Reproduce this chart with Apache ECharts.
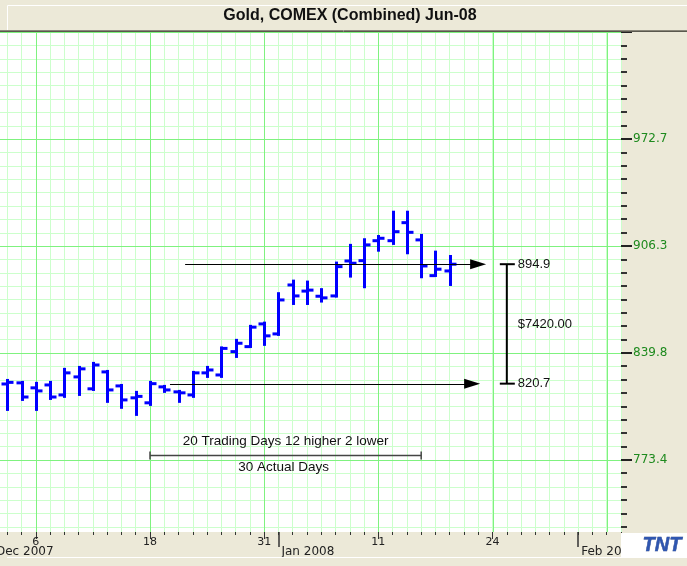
<!DOCTYPE html>
<html><head><meta charset="utf-8">
<script src="https://cdn.jsdelivr.net/npm/echarts@6/dist/echarts.min.js"></script>
<style>html,body{margin:0;padding:0;background:#ECE9D8;}#c{width:687px;height:566px;}</style>
</head><body><div id="c"></div>
<script>
// ---- data ----
const tradingDays = [
  '2007-12-03','2007-12-04','2007-12-05','2007-12-06','2007-12-07','2007-12-10','2007-12-11','2007-12-12','2007-12-13','2007-12-14',
  '2007-12-17','2007-12-18','2007-12-19','2007-12-20','2007-12-21','2007-12-24','2007-12-26','2007-12-27','2007-12-28','2007-12-31',
  '2008-01-02','2008-01-03','2008-01-04','2008-01-07','2008-01-08','2008-01-09','2008-01-10','2008-01-11','2008-01-14','2008-01-15',
  '2008-01-16','2008-01-17','2008-01-18','2008-01-22','2008-01-23','2008-01-24','2008-01-25','2008-01-28','2008-01-29','2008-01-30',
  '2008-01-31','2008-02-01','2008-02-04','2008-02-05','2008-02-06'
];
const opens  = [null,820.5,821.2,818.1,819.9,813.7,824.9,817.5,828.0,819.3,811.9,808.8,818.7,815.6,813.7,827.4,826.1,840.6,843.7,857.8,851.6,882.0,878.2,875.0,875.2,896.9,897.1,909.5,909.5,920.7,910.0,887.8,890.7,null,null,null,null,null,null,null,null,null,null,null,null];
const highs  = [null,823.0,821.8,821.2,821.8,829.9,831.1,833.6,828.6,819.9,815.6,821.8,819.3,816.2,828.0,831.1,843.2,847.9,856.6,858.6,876.9,884.7,884.1,879.4,895.9,906.9,910.4,912.4,927.5,927.5,913.1,902.7,900.0,null,null,null,null,null,null,null,null,null,null,null,null];
const lows   = [null,804.4,810.6,804.4,811.2,812.5,813.7,816.8,809.4,805.7,801.3,807.5,815.6,809.4,812.5,824.9,824.9,837.3,843.5,844.8,851.0,870.2,870.2,871.7,874.8,887.2,880.6,903.3,907.5,901.7,886.8,887.6,882.0,null,null,null,null,null,null,null,null,null,null,null,null];
const closes = [null,821.5,812.4,816.2,812.4,827.4,829.9,832.3,816.8,810.6,812.8,820.7,816.8,815.0,827.4,829.2,842.6,845.8,855.8,850.4,872.7,875.2,878.8,874.0,893.4,895.5,906.9,911.0,915.1,914.7,893.8,891.8,894.9,null,null,null,null,null,null,null,null,null,null,null,null];
const yTickLabels = [773.4, 839.8, 906.3, 972.7];
const dayTickDates = ['2007-12-06','2007-12-18','2007-12-31','2008-01-11','2008-01-24'];
const majorGridDates = ['2007-12-06','2007-12-18','2007-12-31','2008-01-11','2008-01-24','2008-02-05'];
const monthStartDates = ['2007-12-03','2008-01-02','2008-02-01'];
const monthNames = ['Jan','Feb','Mar','Apr','May','Jun','Jul','Aug','Sep','Oct','Nov','Dec'];
const titleText = 'Gold, COMEX (Combined) Jun-08';
const startDate = '2007-12-18';
const startLevel = 820.7, endLevel = 894.9;
const measureText1 = '20 Trading Days 12 higher 2 lower';
const measureText2 = '30 Actual Days';
const pointValue = 100;

// ---- axis helpers ----
const majorStep = (yTickLabels[3] - yTickLabels[0]) / 3;
const minorStep = majorStep / 8;
const yMax = yTickLabels[0] + 4 * majorStep;
const yMin = yTickLabels[0] - 5.4 * minorStep;
const minorTicks = [];
for (let k = -5; k <= 31; k++) minorTicks.push(yTickLabels[0] + k * minorStep);
const majorTicks = [];
for (let k = 0; k <= 4; k++) majorTicks.push(yTickLabels[0] + k * majorStep);

const ohlcData = tradingDays.map((d, i) => [i, opens[i], highs[i], lows[i], closes[i]]).filter(r => r[1] != null);
const startIdx = tradingDays.indexOf(startDate);
const lightGrid = '#ccffcc', brightGrid = '#7ff27f';

function fx(api, i, v) {
  const b = Math.floor(i);
  const p0 = api.coord([b, v]);
  const p1 = api.coord([b + 1, v]);
  return [p0[0] + (i - b) * (p1[0] - p0[0]), p0[1]];
}

function hLine(color) {
  return function (params, api) {
    const cs = params.coordSys;
    const y = Math.round(api.coord([0, api.value(1)])[1]) + 0.5;
    return { type: 'line', shape: { x1: cs.x, y1: y, x2: cs.x + cs.width, y2: y }, style: { stroke: color, lineWidth: 1 } };
  };
}

function renderVMajor(params, api) {
  const cs = params.coordSys;
  const x = Math.round(api.coord([api.value(0), yMin])[0]) + 0.5;
  return { type: 'line', shape: { x1: x, y1: cs.y, x2: x, y2: cs.y + cs.height }, style: { stroke: brightGrid, lineWidth: 1 } };
}

function renderOHLC(params, api) {
  const i = api.value(0);
  const po = api.coord([i, api.value(1)]);
  const ph = api.coord([i, api.value(2)]);
  const pl = api.coord([i, api.value(3)]);
  const pc = api.coord([i, api.value(4)]);
  const x = Math.round(ph[0]) + 0.5;
  const st = { stroke: '#0000ff', lineWidth: 3 };
  return { type: 'group', children: [
    { type: 'line', shape: { x1: x, y1: ph[1] - 1, x2: x, y2: pl[1] + 1 }, style: st },
    { type: 'line', shape: { x1: x - 6, y1: po[1], x2: x, y2: po[1] }, style: st },
    { type: 'line', shape: { x1: x, y1: pc[1], x2: x + 6, y2: pc[1] }, style: st }
  ]};
}

function arrow(api, i0, i1, v) {
  const a = fx(api, i0, v), b = fx(api, i1, v);
  return [
    { type: 'line', shape: { x1: a[0], y1: Math.round(a[1]) + 0.5, x2: b[0] - 14, y2: Math.round(b[1]) + 0.5 }, style: { stroke: '#000', lineWidth: 1 } },
    { type: 'polygon', shape: { points: [[b[0], b[1]], [b[0] - 16, b[1] - 5], [b[0] - 16, b[1] + 5]] }, style: { fill: '#000' } }
  ];
}

function renderAnno(params, api) {
  const ch = [];
  ch.push(...arrow(api, startIdx + 1.4, 34.13, startLevel));
  ch.push(...arrow(api, startIdx + 2.46, 34.55, endLevel));
  const bx = api.coord([36, endLevel])[0];
  const yt = api.coord([36, endLevel])[1], yb = api.coord([36, startLevel])[1];
  const bs = { stroke: '#000', lineWidth: 2 };
  ch.push({ type: 'line', shape: { x1: bx, y1: yt, x2: bx, y2: yb }, style: bs });
  ch.push({ type: 'line', shape: { x1: bx - 7, y1: yt, x2: bx + 8, y2: yt }, style: bs });
  ch.push({ type: 'line', shape: { x1: bx - 7, y1: yb, x2: bx + 8, y2: yb }, style: bs });
  const tf = '13px "Liberation Sans", Arial, sans-serif';
  ch.push({ type: 'text', style: { text: endLevel.toFixed(1), x: bx + 11, y: yt, font: tf, fill: '#111', align: 'left', verticalAlign: 'middle' } });
  ch.push({ type: 'text', style: { text: startLevel.toFixed(1), x: bx + 11, y: yb, font: tf, fill: '#111', align: 'left', verticalAlign: 'middle' } });
  ch.push({ type: 'text', style: { text: '$' + ((endLevel - startLevel) * pointValue).toFixed(2), x: bx + 11, y: (yt + yb) / 2, font: tf, fill: '#111', align: 'left', verticalAlign: 'middle' } });
  const mv = 776.5;
  const m0 = api.coord([startIdx, mv]), m1 = api.coord([30, mv]);
  const my = Math.round(m0[1]) + 0.5;
  const ms = { stroke: '#444', lineWidth: 1.5 };
  ch.push({ type: 'line', shape: { x1: m0[0], y1: my, x2: m1[0], y2: my }, style: ms });
  ch.push({ type: 'line', shape: { x1: m0[0], y1: my - 4, x2: m0[0], y2: my + 4 }, style: ms });
  ch.push({ type: 'line', shape: { x1: m1[0], y1: my - 4, x2: m1[0], y2: my + 4 }, style: ms });
  const mx = (m0[0] + m1[0]) / 2;
  ch.push({ type: 'text', style: { text: measureText1, x: mx, y: my - 14, font: '13.5px "Liberation Sans", Arial, sans-serif', fill: '#111', align: 'center', verticalAlign: 'middle' } });
  ch.push({ type: 'text', style: { text: measureText2, x: mx - 2, y: my + 12, font: '13.5px "Liberation Sans", Arial, sans-serif', fill: '#111', align: 'center', verticalAlign: 'middle' } });
  return { type: 'group', children: ch };
}

const chart = echarts.init(document.getElementById('c'), null, { renderer: 'canvas' });
chart.setOption({
  animation: false,
  backgroundColor: '#ECE9D8',
  textStyle: { fontFamily: '"DejaVu Sans", sans-serif' },
  grid: { left: -7, right: 66, top: 32, bottom: 34, show: true, backgroundColor: '#ffffff', borderWidth: 0, containLabel: false, outerBoundsMode: 'none' },
  xAxis: [
    { type: 'category', data: tradingDays, boundaryGap: false, position: 'bottom',
      axisLine: { show: false },
      axisTick: { show: true, interval: 0, length: 3, lineStyle: { color: '#333', width: 1 } },
      axisLabel: { show: false },
      splitLine: { show: true, interval: 0, lineStyle: { color: lightGrid, width: 1 } } },
    { type: 'category', data: tradingDays, boundaryGap: false, position: 'bottom',
      axisLine: { show: false },
      axisTick: { show: true, interval: (i, v) => dayTickDates.includes(v), length: 7, lineStyle: { color: '#333', width: 1 } },
      axisLabel: { show: true, interval: (i, v) => dayTickDates.includes(v), formatter: v => String(parseInt(v.slice(8), 10)), margin: 5, fontSize: 11, color: '#222' },
      splitLine: { show: false } },
    { type: 'category', data: tradingDays, boundaryGap: false, position: 'bottom',
      axisLine: { show: false },
      axisTick: { show: true, interval: (i, v) => monthStartDates.includes(v), length: 15, lineStyle: { color: '#333', width: 1.5 } },
      axisLabel: { show: true, interval: (i, v) => monthStartDates.includes(v), formatter: v => monthNames[parseInt(v.slice(5, 7), 10) - 1] + ' ' + v.slice(0, 4), align: 'left', padding: [0, 0, 0, 3], margin: 14, fontSize: 12, color: '#222' },
      splitLine: { show: false } }
  ],
  yAxis: [
    { type: 'value', position: 'right', min: yMin, max: yMax, scale: true,
      axisLine: { show: false },
      axisTick: { show: true, customValues: minorTicks, length: 6, lineStyle: { color: '#333', width: 2 } },
      axisLabel: { show: false },
      splitLine: { show: false } },
    { type: 'value', position: 'right', min: yMin, max: yMax, scale: true,
      axisLine: { show: false },
      axisTick: { show: true, customValues: majorTicks, length: 11, lineStyle: { color: '#222', width: 2 } },
      axisLabel: { show: true, customValues: yTickLabels, formatter: v => v.toFixed(1), color: '#1e8a1e', fontSize: 12, margin: 12 },
      splitLine: { show: false } }
  ],
  series: [
    { type: 'custom', name: 'hgrid', xAxisIndex: 0, yAxisIndex: 0, data: minorTicks.map(v => [0, v]), renderItem: hLine(lightGrid), clip: true, silent: true, z: 1 },
    { type: 'custom', name: 'vmajor', xAxisIndex: 0, yAxisIndex: 0, data: majorGridDates.map(d => [tradingDays.indexOf(d), 0]), renderItem: renderVMajor, clip: true, silent: true, z: 1 },
    { type: 'custom', name: 'hmajor', xAxisIndex: 0, yAxisIndex: 0, data: majorTicks.map(v => [0, v]), renderItem: hLine(brightGrid), clip: true, silent: true, z: 1 },
    { type: 'custom', name: 'Gold', xAxisIndex: 0, yAxisIndex: 0, data: ohlcData, encode: { x: 0, y: [1, 2, 3, 4] }, renderItem: renderOHLC, clip: true, z: 5 },
    { type: 'custom', name: 'anno', xAxisIndex: 0, yAxisIndex: 0, data: [[0, 0]], renderItem: renderAnno, clip: false, z: 10, silent: true }
  ],
  graphic: [
    { type: 'rect', left: 7, top: 5, shape: { width: 680, height: 25 }, style: { fill: '#ECE9D8', stroke: '#ffffff', lineWidth: 1 }, z: 100 },
    { type: 'line', shape: { x1: 0, y1: 30.5, x2: 687, y2: 30.5 }, style: { stroke: '#8a877a', lineWidth: 1 }, z: 100 },
    { type: 'line', shape: { x1: 0, y1: 31.5, x2: 687, y2: 31.5 }, style: { stroke: '#5a584e', lineWidth: 1 }, z: 100 },
    { type: 'text', x: 350, y: 16, style: { text: titleText, font: 'bold 16px "Liberation Sans", Arial, sans-serif', fill: '#111', align: 'center', verticalAlign: 'middle' }, z: 101 },
    { type: 'rect', shape: { x: 621, y: 533, width: 66, height: 24 }, style: { fill: '#ffffff' }, z: 100 },
    { type: 'text', x: 662, y: 545, style: { text: 'TNT', font: 'italic bold 20px "Liberation Sans", Arial, sans-serif', fill: '#2f56b0', align: 'center', verticalAlign: 'middle', stroke: '#1c3a80', lineWidth: 0.5 }, z: 101 },
    { type: 'line', shape: { x1: 7, y1: 557.5, x2: 687, y2: 557.5 }, style: { stroke: '#ffffff', lineWidth: 1 }, z: 100 }
  ]
});
</script></body></html>
